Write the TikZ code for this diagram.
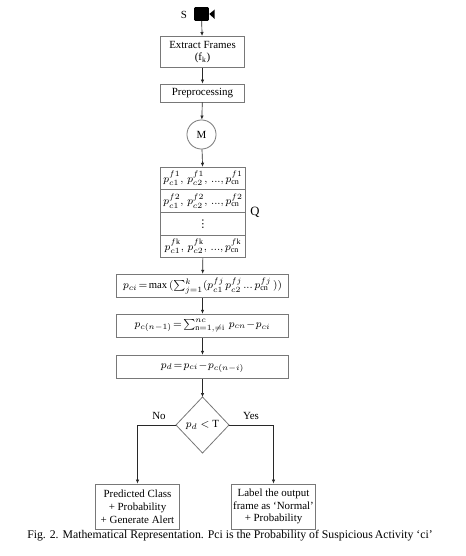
\documentclass[tikz,border=0pt]{standalone}
\usepackage{amssymb,amsfonts,amsmath}
\usepackage{fontspec}
\setmainfont{Liberation Serif}
\newfontfamily\symfont{DejaVu Sans}
\usepackage{tikz}
\usetikzlibrary{arrows.meta}

\newcommand{\tightmath}{\thickmuskip=2mu\relax\medmuskip=1mu\relax}

\begin{document}
\begin{tikzpicture}[x=0.75pt,y=-0.75pt,font=\fontsize{8.2}{9.6}\selectfont]
      % colours
      \definecolor{boxcolor}{RGB}{120,120,120}
      \definecolor{linecolor}{RGB}{40,40,40}

      % styles
      \tikzstyle{box} = [rectangle, draw=boxcolor, fill=white, inner sep=0pt, align=center, line width=0.6pt]
      \tikzstyle{rowbox} = [box, minimum width=63.4pt, minimum height=17pt, font=\fontsize{8}{9}\selectfont]
      \tikzstyle{widebox} = [box, minimum width=129.5pt, minimum height=17.7pt, font=\fontsize{8}{9}\selectfont\tightmath]
      \tikzstyle{endbox} = [box, minimum width=62.5pt, minimum height=33.7pt]
      \tikzstyle{plain} = [inner sep=0pt]
      \tikzstyle{arrow} = [-{Latex[length=3pt,width=2.6pt]}, linecolor, line width=0.5pt]

      \useasboundingbox (0,0) rectangle (466,556);

      % source
      \node[plain] (slabel) at (184,14.5) {S};
      \node[rectangle, rounded corners=1pt, fill=black, minimum width=11.2pt, minimum height=10.4pt, inner sep=0pt] (cam) at (201.5,14) {};
      \fill[black] (cam.east) -- ++(5.5,-4.5) -- ++(0,9.5) -- cycle;

      % top part
      \node[box, minimum width=63.4pt, minimum height=23.4pt] (extract) at (202.5,52) {Extract Frames\\(f\textsubscript{k})};
      \node[box, minimum width=63.4pt, minimum height=13.5pt] (prep) at (202.5,93) {Preprocessing};
      \node[circle, draw=boxcolor, fill=white, minimum size=21.8pt, inner sep=0pt, line width=0.6pt] (model) at (201.5,134.5) {M};

      % scores of the frames
      \node[rowbox] (row1) at (203,178.5) {$p_{c1}^{f1},\, p_{c2}^{f1},\, {...},p_{\mathrm{cn}}^{f1}$};
      \node[rowbox] (row2) at (203,201.2) {$p_{c1}^{f2},\, p_{c2}^{f2},\, {...},p_{\mathrm{cn}}^{f2}$};
      \node[rowbox] (row3) at (203,223.8) {\symfont ⋮};
      \node[rowbox] (row4) at (203,246.5) {$p_{c1}^{f\mathrm{k}},\, p_{c2}^{f\mathrm{k}},\, {...},p_{\mathrm{cn}}^{f\mathrm{k}}$};
      \node[plain, font=\fontsize{9.5}{11}\selectfont] (qlabel) at (255,212) {Q};

      % formulas
      \node[widebox] (maxbox) at (202.5,286) {$p_{ci} = \max\,(\sum_{j=1}^{k}(p_{c1}^{fj}\; p_{c2}^{fj}\; {...}\, p_{\mathrm{cn}}^{fj}\,))$};
      \node[widebox] (sumbox) at (202.5,326) {$p_{c(n-1)} = \sum_{\mathrm{n}=1,\neq\mathrm{i}}^{nc}\, p_{cn} - p_{ci}$};
      \node[widebox] (diffbox) at (202.5,367) {$p_d = p_{ci} - p_{c(n-i)}$};

      % decision
      \node[plain] (decide) at (202.5,425) {$p_d < \mathrm{T}$};
      \draw[boxcolor, line width=0.6pt] (202.5,397) -- (229,425) -- (202.5,453) -- (176,425) -- cycle;
      \coordinate (dtop) at (202.5,397);
      \coordinate (dleft) at (176,425);
      \coordinate (dright) at (229,425);
      \node[plain] (nolabel) at (159,416) {No};
      \node[plain] (yeslabel) at (251,416) {Yes};

      % ends
      \node[endbox] (alert) at (137.5,506.5) {Predicted Class\\+ Probability\\+ Generate Alert};
      \node[endbox] (normal) at (273.5,506.5) {Label the output\\frame as ‘Normal’\\+ Probability};

      % caption
      \node[plain, font=\fontsize{8.83}{10}\selectfont] (caption) at (230,536) {Fig. 2. Mathematical Representation. Pci is the Probability of Suspicious\,Activity ‘ci’};

      % connectors
      \draw[arrow] (cam) -- (extract);
      \draw[arrow] (extract) -- (prep);
      \draw[arrow] (prep) -- (model);
      \draw[arrow] (model) -- (row1);
      \draw[arrow] (row4) -- (maxbox);
      \draw[arrow] (maxbox) -- (sumbox);
      \draw[arrow] (sumbox) -- (diffbox);
      \draw[arrow] (diffbox) -- (dtop);
      \draw[arrow] (dleft) -| (alert);
      \draw[arrow] (dright) -| (normal);
    \end{tikzpicture}
\end{document}
